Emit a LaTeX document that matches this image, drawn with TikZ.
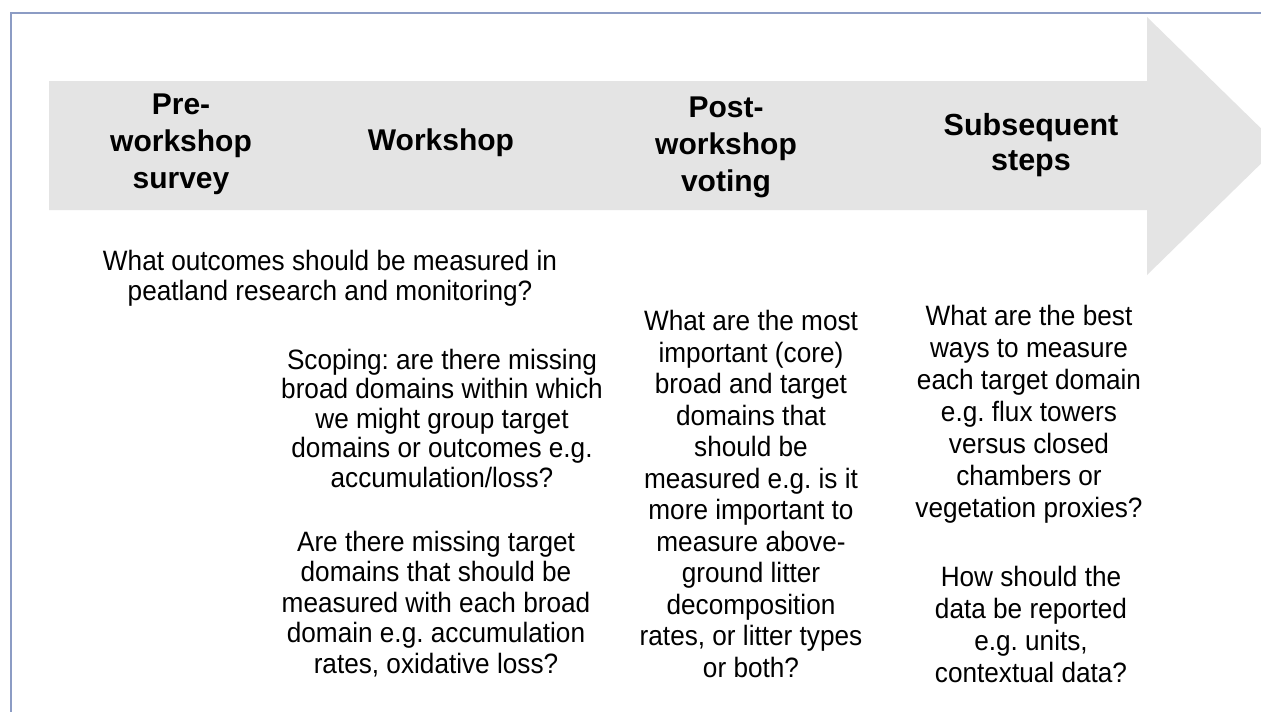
\documentclass[tikz,border=0pt]{standalone}
\usepackage{fontspec}
\setmainfont{Liberation Sans}
\newfontfamily\bodyfont[FakeStretch=0.935]{Liberation Sans}
\frenchspacing
\definecolor{arrowgray}{HTML}{E4E4E4}
\definecolor{framecol}{HTML}{8C9CC4}
\tikzset{
  hdr/.style={align=center, inner sep=0pt, font=\bfseries\fontsize{30}{37}\selectfont},
  body/.style={align=center, inner sep=0pt, font=\bodyfont\fontsize{28}{29.5}\selectfont},
  bodywide/.style={body, font=\bodyfont\fontsize{28}{31.5}\selectfont}
}
\begin{document}
\begin{tikzpicture}[x=1pt,y=-1pt]
\useasboundingbox (0,0) rectangle (1261,712);
\fill[white] (0,0) rectangle (1261,712);
% frame
\draw[framecol, line width=2pt] (10.5,712) -- (10.5,12.5) -- (1261,12.5);
% big arrow
\begin{scope}
\clip (0,0) rectangle (1261,712);
\fill[arrowgray] (49,81) -- (1147,81) -- (1147,17) -- (1279,146) -- (1147,275) -- (1147,210) -- (49,210) -- cycle;
\end{scope}
% headers
\node[hdr] (h1) at (181,144) {Pre-\\workshop\\survey};
\node[hdr] (h2) at (441,143) {Workshop};
\node[hdr] (h3) at (726,147) {Post-\\workshop\\voting};
\node[hdr, font=\bfseries\fontsize{30.5}{35}\selectfont] (h4) at (1031,145) {Subsequent\\steps};
% body texts
\node[body, font=\bodyfont\fontsize{28}{30}\selectfont] (t1) at (330,278) {What outcomes should be measured in\\peatland research and monitoring?};
\node[body] (t2) at (442,418) {Scoping: are there missing\\broad domains within which\\we might group target\\domains or outcomes e.g.\\accumulation/loss?};
\node[body, font=\bodyfont\fontsize{28}{30.5}\selectfont] (t3) at (436,604) {Are there missing target\\domains that should be\\measured with each broad\\domain e.g. accumulation\\rates, oxidative loss?};
\node[bodywide] (t4) at (751,494) {What are the most\\important (core)\\broad and target\\domains that\\should be\\measured e.g. is it\\more important to\\measure above-\\ground litter\\decomposition\\rates, or litter types\\or both?};
\node[body, font=\bodyfont\fontsize{28}{32}\selectfont] (t5) at (1029,414) {What are the best\\ways to measure\\each target domain\\e.g. flux towers\\versus closed\\chambers or\\vegetation proxies?};
\node[body, font=\bodyfont\fontsize{28}{31.7}\selectfont] (t6) at (1031,624.5) {How should the\\data be reported\\e.g. units,\\contextual data?};
\end{tikzpicture}
\end{document}
